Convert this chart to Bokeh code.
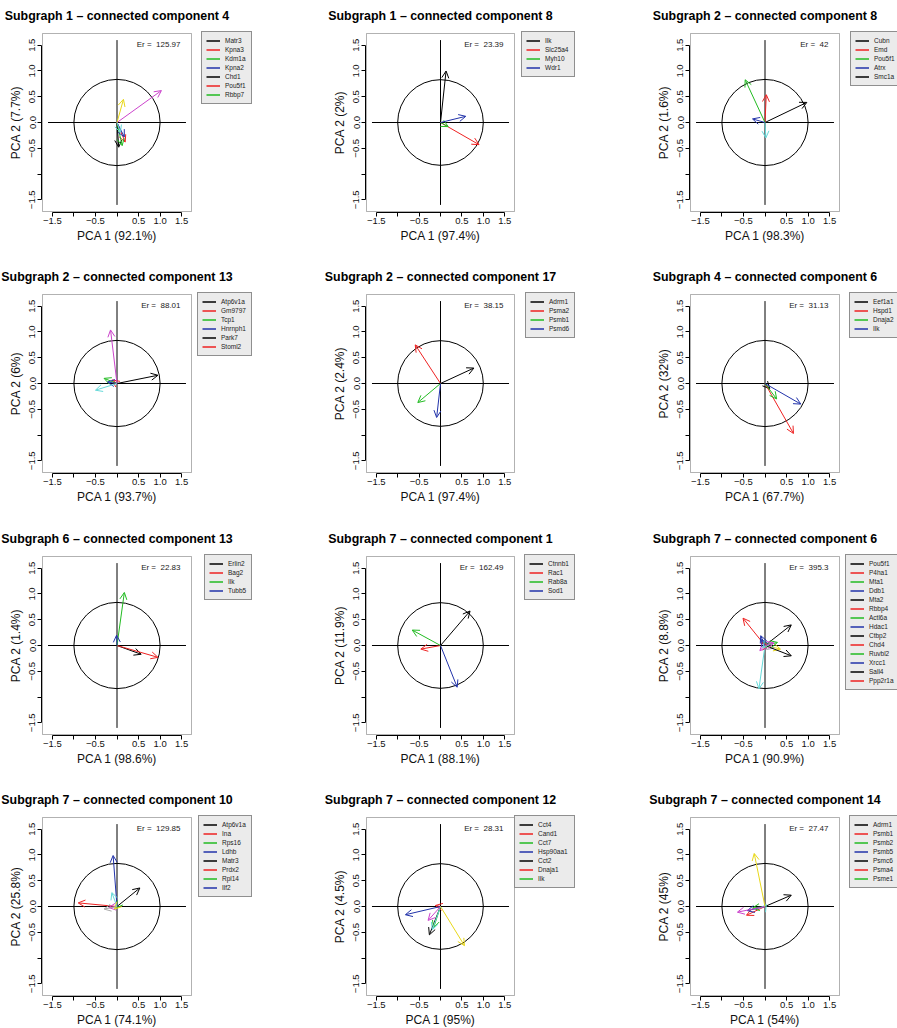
import math
from bokeh.plotting import figure
from bokeh.models import (Range1d, FixedTicker, Arrow, OpenHead, ColumnDataSource,
                          Label, Legend, LegendItem, BoxAnnotation, Title)
from bokeh.layouts import column, row
from bokeh.embed import file_html
from bokeh.resources import INLINE

# ---------------------------------------------------------------- data
titles = [
    "Subgraph 1 – connected component 4",
    "Subgraph 1 – connected component 8",
    "Subgraph 2 – connected component 8",
    "Subgraph 2 – connected component 13",
    "Subgraph 2 – connected component 17",
    "Subgraph 4 – connected component 6",
    "Subgraph 6 – connected component 13",
    "Subgraph 7 – connected component 1",
    "Subgraph 7 – connected component 6",
    "Subgraph 7 – connected component 10",
    "Subgraph 7 – connected component 12",
    "Subgraph 7 – connected component 14",
]
pca1_pct = [92.1, 97.4, 98.3, 93.7, 97.4, 67.7, 98.6, 88.1, 90.9, 74.1, 95, 54]
pca2_pct = [7.7, 2, 1.6, 6, 2.4, 32, 1.4, 11.9, 8.8, 25.8, 4.5, 45]
er_values = [125.97, 23.39, 42, 88.01, 38.15, 31.13, 22.83, 162.49, 395.3, 129.85, 28.31, 27.47]

genes = [
    ["Matr3", "Kpna3", "Kdm1a", "Kpna2", "Chd1", "Pou5f1", "Rbbp7"],
    ["Ilk", "Slc25a4", "Myh10", "Wdr1"],
    ["Cubn", "Emd", "Pou5f1", "Atrx", "Smc1a"],
    ["Atp6v1a", "Gm9797", "Tcp1", "Hnrnph1", "Park7", "Stoml2"],
    ["Adrm1", "Psma2", "Psmb1", "Psmd6"],
    ["Eef1a1", "Hspd1", "Dnaja2", "Ilk"],
    ["Erlin2", "Bag2", "Ilk", "Tubb5"],
    ["Ctnnb1", "Rac1", "Rab8a", "Sod1"],
    ["Pou5f1", "P4ha1", "Mta1", "Ddb1", "Mta2", "Rbbp4", "Actl6a", "Hdac1",
     "Ctbp2", "Chd4", "Ruvbl2", "Xrcc1", "Sall4", "Ppp2r1a"],
    ["Atp6v1a", "Ina", "Rps16", "Ldhb", "Matr3", "Prdx2", "Rpl14", "Ilf2"],
    ["Cct4", "Cand1", "Cct7", "Hsp90aa1", "Cct2", "Dnaja1", "Ilk"],
    ["Adrm1", "Psmb1", "Psmb2", "Psmb5", "Psmc6", "Psma4", "Psme1"],
]
pc1 = [
    [0.04, 0.19, 0.12, 0.17, 0.08, 1.03, 0.15],
    [0.13, 0.90, 0.18, 0.59],
    [0.97, 0.03, -0.46, -0.29, 0.02],
    [0.95, -0.11, -0.30, -0.22, -0.50, -0.15],
    [0.78, -0.59, -0.53, -0.09],
    [0.11, 0.66, 0.27, 0.83],
    [0.56, 0.95, 0.17, -0.01],
    [0.69, -0.46, -0.66, 0.39],
    [0.61, -0.51, 0.13, -0.10, -0.14, -0.12, 0.36, 0.21, 0.61, 0.08, 0.29, -0.08, -0.04, 0.21],
    [0.53, -0.90, -0.03, -0.09, -0.12, -0.19, -0.06, -0.30],
    [-0.26, -0.12, -0.16, -0.82, -0.19, -0.29, 0.56],
    [0.61, -0.43, -0.29, -0.41, 0.03, -0.64, -0.25],
]
pc2 = [
    [-0.48, -0.38, -0.45, -0.28, -0.19, 0.62, 0.45],
    [1.00, -0.43, -0.08, 0.12],
    [0.39, 0.54, 0.83, 0.07, -0.30],
    [0.16, 0.07, 0.10, 0.03, -0.13, 1.04],
    [0.30, 0.75, -0.37, -0.66],
    [-0.10, -0.97, -0.30, -0.40],
    [-0.17, -0.23, 1.03, 0.20],
    [0.67, -0.07, 0.30, -0.81],
    [0.40, 0.53, 0.03, 0.19, -0.84, -0.10, -0.07, -0.05, -0.20, 0.02, 0.06, 0.12, -0.05, 0.05],
    [0.36, 0.07, -0.03, 0.99, 0.27, -0.02, -0.05, -0.05],
    [-0.55, 0.02, -0.41, -0.16, -0.45, -0.27, -0.76],
    [0.22, -0.17, -0.03, -0.08, 0.04, -0.11, 1.03],
]

# ---------------------------------------------------------------- styling
ARROW_COLORS = ["#000000", "#EE2222", "#22BB22", "#2233AA",
                "#66D9D9", "#CC44CC", "#E8D81A", "#AAAAAA"]
LEGEND_COLORS = ARROW_COLORS[:4]
FONT = "Liberation Sans"
TITLE_SIZE, LAB_SIZE = 12.4, 12.0

LIM = 1.6
EXT = LIM * 1.08            # axis limits widened by 4 % on each side
TICKS = [-1.5, -1.0, -0.5, 0.0, 0.5, 1.0, 1.5]

PANEL_W = 299
ROW_H = [261, 262, 261, 244]
BOX_LEFT = [42, 67, 92]     # plot box position inside each panel, px
BOX_W = [149, 148, 149]
BOX_TOP = 33
BOX_H = 178
TITLE_RISE = 18             # title baseline above the box, px
YTITLE_GAP = 27             # y-axis title centre left of the box, px
LEGEND_W = [49, 52, 48, 53, 48, 49, 46, 49, 53, 52, 59, 49]
LEGEND_REACH = 59           # legend right edge, px to the right of the plot box
LEG_PAD, LEG_ROW, LEG_GLYPH, LEG_STANDOFF = 4, 9, 14, 5

# advance widths (1/1000 em) of the sans face, used to centre the x-axis title on the box
REG_ADV = {" ": 278, "P": 667, "C": 722, "A": 667, "(": 333, ")": 333, ".": 278, "%": 889}


def text_width(s, size):
    return sum(REG_ADV.get(ch, 556) for ch in s) * size / 1000.0


def fmt(v):
    return f"{v:g}"


def neg(s):
    return s.replace("-", "\u2212")


def make_panel(k):
    r, c = divmod(k, 3)
    bl, bw = BOX_LEFT[c], BOX_W[c]
    right_room = PANEL_W - bl - bw
    sx = bw / (2 * EXT)
    sy = BOX_H / (2 * EXT)
    frame_h = BOX_TOP + BOX_H + 1
    # the frame spans the panel's full width and runs from its top to 1 px under
    # the box; title, y-axis and legend are all drawn inside it
    p = figure(
        width=PANEL_W, height=ROW_H[r],
        x_range=Range1d(-EXT - bl / sx, EXT + right_room / sx),
        y_range=Range1d(-EXT - 1 / sy, EXT + BOX_TOP / sy),
        min_border_left=0, min_border_right=0,
        min_border_top=0, min_border_bottom=ROW_H[r] - frame_h,
        output_backend="svg", toolbar_location=None,
    )
    p.background_fill_color = "white"
    p.border_fill_color = "white"
    p.outline_line_color = None
    p.xgrid.visible = False
    p.ygrid.visible = False

    p.add_layout(BoxAnnotation(left=-EXT, right=EXT, bottom=-EXT, top=EXT,
                               fill_color=None, line_color="black", line_width=1))

    # panel title, centred over the box
    p.add_layout(Label(
        x=0, y=EXT, y_offset=TITLE_RISE, text=titles[k],
        text_align="center", text_baseline="alphabetic",
        text_font=FONT, text_font_style="bold", text_font_size=f"{TITLE_SIZE}px",
        text_color="black",
    ))

    for ax in (p.xaxis[0], p.yaxis[0]):
        ax.ticker = FixedTicker(ticks=TICKS)
        ax.bounds = (TICKS[0], TICKS[-1])
        ax.axis_line_color = "black"
        ax.major_tick_line_color = "black"
        ax.major_tick_out = 4
        ax.major_tick_in = 0
        ax.minor_tick_out = 0
        ax.minor_tick_in = 0
        ax.major_label_text_font = FONT
        ax.major_label_text_font_size = "9.5px"
        ax.major_label_text_color = "#111111"

    xlab = {t: neg(f"{t:.1f}") for t in TICKS}
    xlab[-1.0] = ""
    xlab[0.0] = ""
    ylab = {t: neg(f"{t:.1f}") for t in TICKS}
    ylab[-1.0] = ""
    p.xaxis[0].major_label_overrides = xlab
    p.yaxis[0].major_label_overrides = ylab
    p.xaxis[0].major_label_standoff = 1
    p.yaxis[0].major_label_orientation = "vertical"
    p.yaxis[0].major_label_standoff = 2
    p.yaxis[0].fixed_location = -EXT - 1 / sx   # y-axis along the box's left side

    # axis titles, centred on the box
    xtitle = f"PCA 1 ({fmt(pca1_pct[k])}%)"
    p.add_layout(Title(
        text=xtitle, align="left",
        offset=bl + bw / 2 - text_width(xtitle, LAB_SIZE) / 2,
        standoff=0, text_font=FONT, text_font_size=f"{LAB_SIZE}px",
        text_font_style="normal", text_color="#111111",
    ), "below")
    p.add_layout(Label(
        x=-EXT, y=0, x_offset=-YTITLE_GAP, angle=math.pi / 2,
        text=f"PCA 2 ({fmt(pca2_pct[k])}%)",
        text_align="center", text_baseline="middle",
        text_font=FONT, text_font_size=f"{LAB_SIZE}px", text_color="#111111",
    ))

    # correlation circle and the two reference axes
    p.circle(x=[0], y=[0], radius=1.0, fill_color=None,
             line_color="black", line_width=1)
    p.segment(x0=[-LIM, 0], y0=[0, -LIM], x1=[LIM, 0], y1=[0, LIM],
              line_color="black", line_width=1)

    # loading arrows
    for i in range(len(genes[k])):
        col = ARROW_COLORS[i % len(ARROW_COLORS)]
        src = ColumnDataSource(dict(x0=[0.0], y0=[0.0], x1=[pc1[k][i]], y1=[pc2[k][i]]))
        p.add_layout(Arrow(
            source=src, x_start="x0", y_start="y0", x_end="x1", y_end="y1",
            line_color=col, line_width=1,
            end=OpenHead(size=7, line_color=col, line_width=1),
        ))

    p.add_layout(Label(
        x=EXT, y=EXT, x_offset=-11, y_offset=-11,
        text=f"Er = \u00a0{fmt(er_values[k])}",
        text_align="right", text_baseline="middle",
        text_font=FONT, text_font_size="8px", text_color="#222222",
    ))

    # legend of gene names, to the right of the box
    nan = float("nan")
    items = []
    for i, g in enumerate(genes[k]):
        rr = p.line(x=[nan], y=[nan], line_color=LEGEND_COLORS[i % 4], line_width=1.5)
        items.append(LegendItem(label=g, renderers=[rr]))
    n = len(items)
    lw = LEGEND_W[k]
    lh = 2 * LEG_PAD + n * LEG_ROW
    legend = Legend(
        items=items,
        location=(bl + bw + LEGEND_REACH - lw, BOX_H + 1 - lh),
        margin=0, padding=LEG_PAD, spacing=0,
        glyph_width=LEG_GLYPH, glyph_height=LEG_ROW, label_height=LEG_ROW,
        label_width=lw - 2 * LEG_PAD - LEG_GLYPH - LEG_STANDOFF,
        label_standoff=LEG_STANDOFF,
        label_text_font=FONT, label_text_font_size="6.5px",
        label_text_color="#222222",
        background_fill_color="#EBEBEB", background_fill_alpha=1,
        border_line_color="#333333", border_line_width=1.5,
    )
    p.add_layout(legend)
    return p


panels = [make_panel(k) for k in range(12)]
layout = column(*[row(*panels[3 * r:3 * r + 3]) for r in range(4)])

with open("out.html", "w") as f:
    f.write(file_html(layout, INLINE))
